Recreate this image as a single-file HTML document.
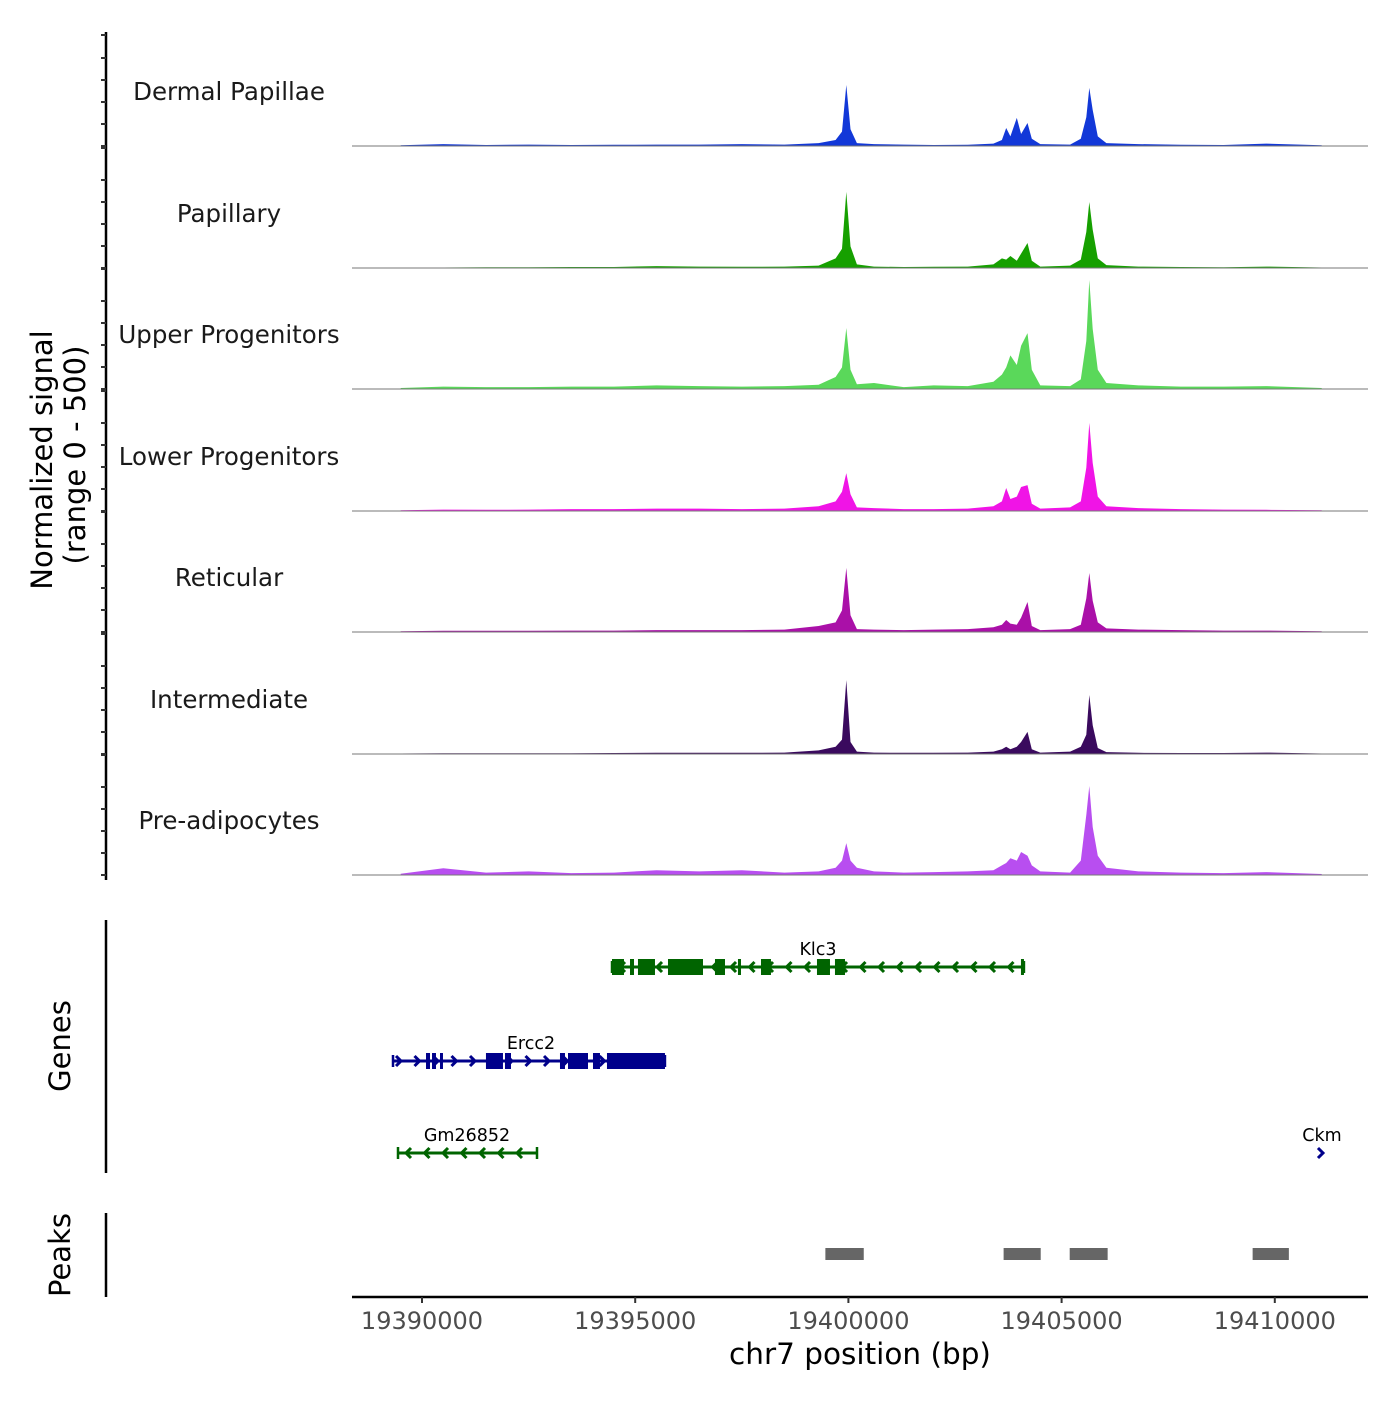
<!DOCTYPE html>
<html><head><meta charset="utf-8"><style>
body{margin:0;background:#fff;font-family:"Liberation Sans","DejaVu Sans",sans-serif;}
svg text{font-family:"DejaVu Sans","Liberation Sans",sans-serif;}
</style></head><body>
<svg id="chart" width="1400" height="1400" viewBox="0 0 1400 1400" xmlns="http://www.w3.org/2000/svg"></svg>
<script>
const trackNames=["Dermal Papillae","Papillary","Upper Progenitors","Lower Progenitors","Reticular","Intermediate","Pre-adipocytes"];
const trackColors=["#1238d8","#16a000","#5ad85a","#f014e6","#aa10a8","#3a0a5e","#b84ef0"];
const positions=[19389500,19390500,19391500,19392500,19393500,19394500,19395500,19396500,19397500,19398500,19399300,19399700,19399850,19399950,19400050,19400200,19400600,19401300,19402000,19402800,19403400,19403600,19403700,19403800,19403950,19404050,19404200,19404300,19404500,19405200,19405450,19405580,19405650,19405730,19405850,19406050,19406800,19407800,19408800,19409800,19411100];
const sigDermal=[3,8,4,6,4,5,6,6,8,6,12,25,60,254,70,12,8,6,4,5,10,25,75,40,117,50,96,30,8,6,30,120,242,150,40,12,8,5,4,10,3];
const sigPapillary=[1,2,3,3,4,4,8,6,5,6,10,40,80,317,90,15,6,4,5,6,15,40,35,50,30,60,104,30,6,10,35,150,275,160,40,12,6,4,3,6,2];
const sigUpper=[4,10,8,8,10,10,15,12,10,12,18,50,90,254,80,20,25,8,15,12,30,60,90,140,100,180,233,80,15,12,40,200,454,250,80,25,15,10,10,12,4];
const sigLower=[3,6,5,6,8,8,10,10,8,10,20,40,80,158,70,15,12,8,8,10,20,40,96,50,60,100,108,30,10,15,40,180,367,200,60,20,12,8,6,5,3];
const sigReticular=[3,5,5,5,6,6,8,8,8,10,25,40,90,267,70,12,10,8,10,12,20,30,50,35,30,60,125,25,8,12,30,140,246,130,40,15,10,8,6,6,3];
const sigIntermediate=[2,3,3,3,3,4,5,5,5,6,15,30,60,308,50,10,6,5,5,6,10,20,30,20,30,50,92,20,6,10,30,80,246,120,25,8,5,4,4,6,2];
const sigPreadip=[5,28,10,15,8,10,20,15,20,10,15,30,60,133,60,30,15,10,12,15,20,40,50,70,60,96,80,40,15,10,60,250,371,200,80,30,15,10,8,12,4];
const xTicks=[19390000,19395000,19400000,19405000,19410000];
const klc3Range=[19394456,19404117];
const klc3Exons=[[19394456,19394737],[19394878,19394972],[19395065,19395464],[19395769,19396590],[19396871,19397106],[19397410,19397481],[19397950,19398184],[19399263,19399568],[19399685,19399920],[19404047,19404117]];
const ercc2Range=[19389320,19395698];
const ercc2Exons=[[19390094,19390188],[19390235,19390328],[19390422,19390492],[19391500,19391899],[19391946,19392087],[19393236,19393353],[19393424,19393893],[19394010,19394174],[19394338,19395698]];
const gmRange=[19389437,19392697];
const ckmPos=19411083;
const peakRanges=[[19399460,19400360],[19403640,19404510],[19405190,19406080],[19409480,19410330]];

const signals=[sigDermal,sigPapillary,sigUpper,sigLower,sigReticular,sigIntermediate,sigPreadip];
const NS="http://www.w3.org/2000/svg";
const svg=document.getElementById('chart');
const X=bp=>422+(bp-19390000)*213.2/5000;
const baselines=[146,268,389,511,632,754,875];
const Y=(b,v)=>b-v*0.24;
function mk(tag,attrs,parent){const e=document.createElementNS(NS,tag);for(const k in attrs)e.setAttribute(k,attrs[k]);(parent||svg).appendChild(e);return e;}
function txt(s,attrs){const t=mk('text',attrs);t.textContent=s;return t;}

let a=mk('line',{x1:106,y1:32,x2:106,y2:880,stroke:'#000','stroke-width':2.5});


baselines.forEach((b,i)=>{
  [0,1,2,3,4].forEach(k=>{const t=mk('line',{x1:101,y1:b-22*k,x2:106,y2:b-22*k,stroke:'#333','stroke-width':2});
    
    });
  const top=i===0?35:b-120;
  const t=mk('line',{x1:101,y1:top,x2:106,y2:top,stroke:'#333','stroke-width':2});
  
  
});
let yt=txt('Normalized signal',{x:0,y:0,'font-size':29,'text-anchor':'middle',transform:'translate(52,460) rotate(-90)'});


let yt2=txt('(range 0 - 500)',{x:0,y:0,'font-size':29,'text-anchor':'middle',transform:'translate(85,455) rotate(-90)'});



signals.forEach((sig,i)=>{
  const b=baselines[i];
  let d=`M${X(positions[0])},${b}`;
  positions.forEach((p,j)=>{d+=` L${X(p).toFixed(1)},${Y(b,sig[j]).toFixed(1)}`;});
  d+=` L${X(positions[positions.length-1])},${b} Z`;
  const ar=mk('path',{d:d,fill:trackColors[i]});
  
  
  const bl=mk('line',{x1:352,y1:b,x2:1368,y2:b,stroke:'#777','stroke-width':1});
  
  
  const lb=txt(trackNames[i],{x:229,y:b-46,'font-size':24.5,'text-anchor':'middle',fill:'#1a1a1a'});
  
  
});

let ga=mk('line',{x1:106,y1:920,x2:106,y2:1173,stroke:'#000','stroke-width':2.5});


let gt=txt('Genes',{x:0,y:0,'font-size':29,'text-anchor':'middle',transform:'translate(70,1046) rotate(-90)'});


let pa=mk('line',{x1:106,y1:1213,x2:106,y2:1297,stroke:'#000','stroke-width':2.5});


let pt=txt('Peaks',{x:0,y:0,'font-size':29,'text-anchor':'middle',transform:'translate(70,1255) rotate(-90)'});



function gene(name,range,exons,y,color,dir,labelX){
  const g=mk('g',{});
  
  
  mk('line',{x1:X(range[0]),y1:y,x2:X(range[1]),y2:y,stroke:color,'stroke-width':3},g);
  const x0=X(range[0]),x1=X(range[1]);
  for(let x=x0+8;x<x1-4;x+=18.5){
    const d=dir<0?`M${x+5},${y-5} L${x},${y} L${x+5},${y+5}`:`M${x-5},${y-5} L${x},${y} L${x-5},${y+5}`;
    mk('path',{d:d,stroke:color,'stroke-width':3,fill:'none'},g);
  }
  exons.forEach(e=>mk('rect',{x:X(e[0]),y:y-8,width:Math.max(2.5,X(e[1])-X(e[0])),height:16,fill:color},g));
  mk('line',{x1:x1,y1:y-6,x2:x1,y2:y+6,stroke:color,'stroke-width':2.5},g);
  mk('line',{x1:x0,y1:y-6,x2:x0,y2:y+6,stroke:color,'stroke-width':2.5},g);
  const t=mk('text',{x:labelX,y:y-12,'font-size':17.5,'text-anchor':'middle',fill:'#000'},g);
  t.textContent=name;
}
gene('Klc3',klc3Range,klc3Exons,967,'#006400',-1,818);
gene('Ercc2',ercc2Range,ercc2Exons,1061,'#00008b',1,531);
gene('Gm26852',gmRange,[],1153,'#006400',-1,467);
const ck=mk('g',{});


mk('path',{d:`M${X(ckmPos)-3},${1148} L${X(ckmPos)+2},${1153} L${X(ckmPos)-3},${1158}`,stroke:'#00008b','stroke-width':3,fill:'none'},ck);
const ckt=mk('text',{x:1322,y:1141,'font-size':17.5,'text-anchor':'middle'},ck);ckt.textContent='Ckm';

peakRanges.forEach(p=>{
  const r=mk('rect',{x:X(p[0]),y:1248,width:X(p[1])-X(p[0]),height:12,fill:'#666'});
  
  
});

let xa=mk('line',{x1:352,y1:1297,x2:1368,y2:1297,stroke:'#000','stroke-width':2.5});


xTicks.forEach(t=>{
  const l=mk('line',{x1:X(t),y1:1297,x2:X(t),y2:1303,stroke:'#333','stroke-width':2});
  
  
  const lt=txt(String(t),{x:X(t),y:1329,'font-size':24,'text-anchor':'middle',fill:'#4d4d4d'});
  
  
});
let xt=txt('chr7 position (bp)',{x:860,y:1364,'font-size':29.5,'text-anchor':'middle'});


</script>
</body></html>
